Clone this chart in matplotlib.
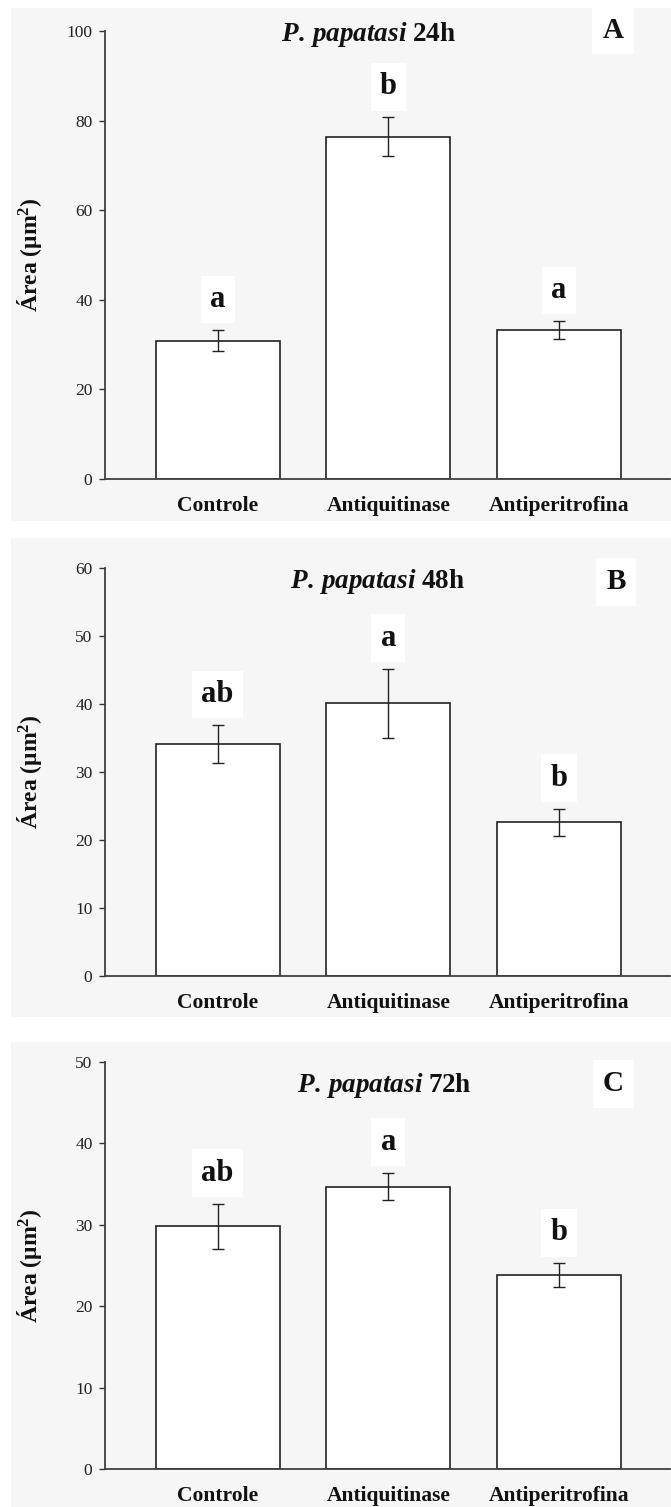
import numpy as np
import matplotlib
matplotlib.use("Agg")
from matplotlib import pyplot as plt
from matplotlib.patches import Rectangle

plt.rcParams['font.family'] = ['Liberation Serif', 'DejaVu Serif']
plt.rcParams['mathtext.fontset'] = 'custom'
plt.rcParams['mathtext.it'] = 'Liberation Serif:italic:bold'
plt.rcParams['mathtext.bf'] = 'Liberation Serif:bold'
plt.rcParams['mathtext.rm'] = 'Liberation Serif:bold'

categories = ['Controle', 'Antiquitinase', 'Antiperitrofina']
times = ['24h', '48h', '72h']
panel_letters = ['A', 'B', 'C']

# means and error bars
means_24h = [30.9, 76.4, 33.3]
err_24h = [2.3, 4.3, 2.0]
means_48h = [34.1, 40.1, 22.6]
err_48h = [2.8, 5.1, 2.0]
means_72h = [29.8, 34.7, 23.8]
err_72h = [2.8, 1.7, 1.45]

letters_24h = ['a', 'b', 'a']
letters_48h = ['ab', 'a', 'b']
letters_72h = ['ab', 'a', 'b']

ymax = [100, 60, 50]
ystep = [20, 10, 10]

means = [means_24h, means_48h, means_72h]
errs = [err_24h, err_48h, err_72h]
sig = [letters_24h, letters_48h, letters_72h]

W, H = 671, 1507
fig = plt.figure(figsize=(W / 100, H / 100), dpi=100)
fig.patch.set_facecolor('white')

# (top, bottom) of each axes in pixels, gray panel boxes (top, bottom)
ax_px = [(31, 479), (568, 976), (1062, 1469)]
box_px = [(8, 521), (538, 1017), (1042, 1507)]
title_pos = [(0.467, 0.992), (0.483, 0.966), (0.494, 0.943)]
letter_pos = [(0.899, 1.002), (0.904, 0.966), (0.900, 0.946)]
left_px, right_px = 105, 670

for k in range(3):
    bt, bb = box_px[k]
    fig.patches.append(Rectangle((11 / W, 1 - bb / H), (W - 11) / W, (bb - bt) / H,
                                 transform=fig.transFigure, facecolor='#f6f6f6',
                                 edgecolor='none', zorder=-10))
    top, bot = ax_px[k]
    ax = fig.add_axes([left_px / W, 1 - bot / H, (right_px - left_px) / W, (bot - top) / H])
    ax.set_facecolor('none')
    x = np.arange(len(categories))
    ax.bar(x, means[k], width=0.727, color='white', edgecolor='#222222', linewidth=1.2, zorder=2)
    ax.errorbar(x, means[k], yerr=errs[k], fmt='none', ecolor='#222222', elinewidth=1.0,
                capsize=4.3, capthick=1.0, zorder=3)
    for i in range(len(categories)):
        ax.annotate(sig[k][i], xy=(x[i], means[k][i] + errs[k][i]), xytext=(0, 22),
                    textcoords='offset points', ha='center', va='center',
                    fontsize=22, fontweight='bold', color='#111111',
                    bbox=dict(boxstyle='square,pad=0.3', facecolor='white', edgecolor='none'))
    ax.set_xlim(-0.66, 2.65)
    ax.set_ylim(0, ymax[k])
    ax.set_yticks(np.arange(0, ymax[k] + 1, ystep[k]))
    ax.set_xticks(x)
    ax.set_xticklabels(categories, fontsize=15.5, fontweight='bold', color='#111111')
    ax.tick_params(axis='x', length=0, pad=12)
    ax.tick_params(axis='y', direction='out', length=4, width=1.0, labelsize=12.5,
                   pad=5, colors='#333333', labelcolor='#222222')
    for s in ['top', 'right']:
        ax.spines[s].set_visible(False)
    for s in ['left', 'bottom']:
        ax.spines[s].set_color('#404040')
        ax.spines[s].set_linewidth(1.3)
    ax.set_ylabel('Área (μm$^{\\mathbf{2}}$)', fontsize=17, fontweight='bold', color='#111111')
    ax.yaxis.set_label_coords(-0.108, 0.5)
    ax.text(title_pos[k][0], title_pos[k][1], '$\\mathit{P.\\,papatasi}$ ' + times[k],
            transform=ax.transAxes, ha='center', va='center', fontsize=19.5,
            fontweight='bold', color='#111111')
    ax.text(letter_pos[k][0], letter_pos[k][1], panel_letters[k], transform=ax.transAxes,
            ha='center', va='center', fontsize=21, fontweight='bold', color='#111111',
            bbox=dict(boxstyle='square,pad=0.35', facecolor='white', edgecolor='none'))

fig.savefig('out.png', dpi=100)
